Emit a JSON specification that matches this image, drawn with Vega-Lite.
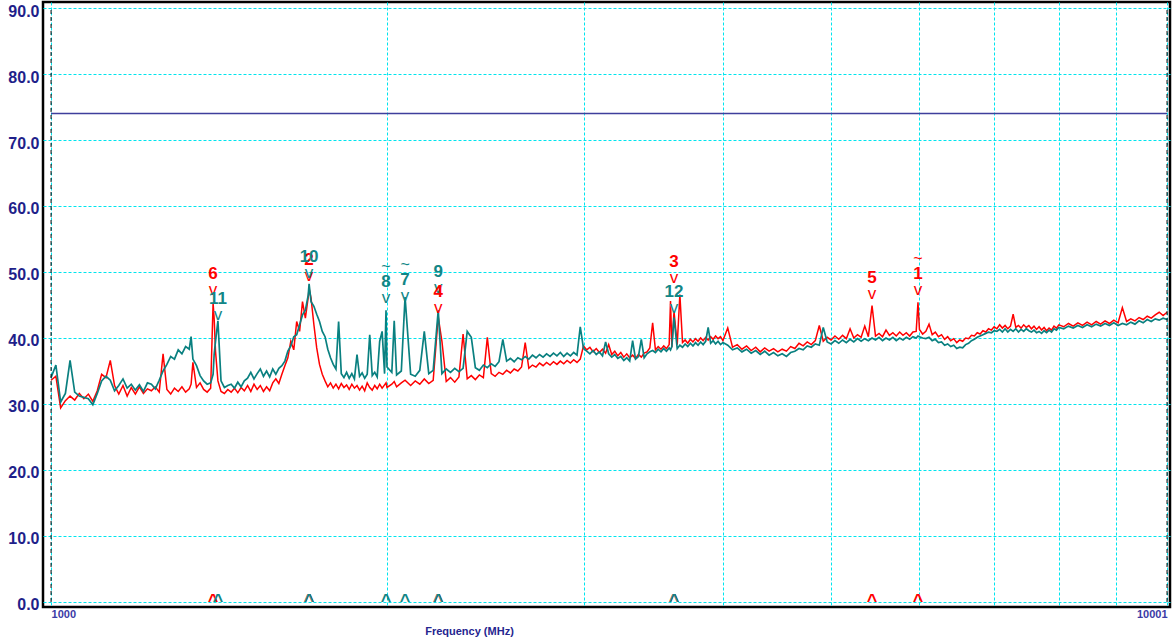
{
  "$schema": "https://vega.github.io/schema/vega-lite/v6.json",
  "width": 1127,
  "height": 605,
  "autosize": {"type": "none"},
  "padding": {"left": 43, "top": 2, "right": 2, "bottom": 34},
  "background": "white",
  "config": {
    "view": {"stroke": "#000000", "strokeWidth": 2.5},
    "font": "Liberation Sans",
    "axisY": {
      "grid": true,
      "gridColor": "#00e5ee",
      "gridDash": [3, 2],
      "gridWidth": 1,
      "domain": false,
      "ticks": false,
      "labelFont": "Liberation Sans",
      "labelFontSize": 16,
      "labelFontWeight": "bold",
      "labelColor": "#1f1f8a",
      "labelPadding": 4,
      "labelOffset": 3
    }
  },
  "datasets": {
    "scan": [
      {"f":1000,"r":33.6,"t":34.0},{"f":1010,"r":34.2,"t":35.9},{"f":1020,"r":29.4,"t":30.3},{"f":1030,"r":30.5,"t":31.6},{"f":1040,"r":31.2,"t":36.6},
      {"f":1050,"r":30.6,"t":31.8},{"f":1060,"r":31.6,"t":31.2},{"f":1070,"r":30.8,"t":31.0},{"f":1080,"r":31.5,"t":30.8},{"f":1090,"r":30.4,"t":29.9},
      {"f":1100,"r":32.0,"t":31.6},{"f":1110,"r":34.5,"t":33.5},{"f":1120,"r":34.0,"t":34.2},{"f":1130,"r":36.6,"t":33.6},{"f":1140,"r":32.8,"t":32.0},
      {"f":1150,"r":31.5,"t":32.8},{"f":1160,"r":32.8,"t":33.8},{"f":1170,"r":31.2,"t":32.4},{"f":1180,"r":32.5,"t":33.0},{"f":1190,"r":31.5,"t":32.1},
      {"f":1200,"r":32.6,"t":32.9},{"f":1210,"r":31.6,"t":31.9},{"f":1220,"r":32.3,"t":33.2},{"f":1230,"r":32.0,"t":33.0},{"f":1240,"r":32.6,"t":32.3},
      {"f":1250,"r":31.8,"t":33.6},{"f":1260,"r":37.6,"t":35.0},{"f":1270,"r":32.2,"t":36.0},{"f":1280,"r":31.5,"t":37.2},{"f":1290,"r":32.4,"t":36.8},
      {"f":1300,"r":31.9,"t":38.2},{"f":1310,"r":32.6,"t":37.6},{"f":1320,"r":31.8,"t":38.7},{"f":1330,"r":32.3,"t":38.3},{"f":1335,"r":33.0,"t":40.2},
      {"f":1340,"r":36.3,"t":36.8},{"f":1350,"r":32.5,"t":35.8},{"f":1360,"r":33.2,"t":34.3},{"f":1370,"r":32.2,"t":33.5},{"f":1380,"r":31.8,"t":33.0},
      {"f":1390,"r":32.4,"t":33.2},{"f":1397,"r":45.3,"t":34.5},{"f":1400,"r":43.0,"t":37.5},{"f":1404,"r":38.0,"t":39.5},{"f":1411,"r":33.5,"t":42.6},
      {"f":1420,"r":31.9,"t":33.5},{"f":1430,"r":31.6,"t":32.5},{"f":1440,"r":32.2,"t":32.8},{"f":1450,"r":31.8,"t":33.0},{"f":1460,"r":32.4,"t":32.4},
      {"f":1470,"r":31.7,"t":33.3},{"f":1480,"r":32.5,"t":32.6},{"f":1490,"r":32.0,"t":33.5},{"f":1500,"r":32.8,"t":33.9},{"f":1510,"r":31.9,"t":34.8},
      {"f":1520,"r":33.0,"t":33.8},{"f":1530,"r":32.2,"t":34.6},{"f":1540,"r":32.8,"t":35.3},{"f":1550,"r":31.9,"t":34.2},{"f":1560,"r":32.6,"t":35.0},
      {"f":1570,"r":32.0,"t":34.1},{"f":1580,"r":33.2,"t":35.3},{"f":1590,"r":33.8,"t":34.5},{"f":1600,"r":33.1,"t":35.4},{"f":1610,"r":34.5,"t":35.8},
      {"f":1620,"r":35.8,"t":36.5},{"f":1630,"r":37.0,"t":38.0},{"f":1640,"r":39.5,"t":38.8},{"f":1650,"r":38.2,"t":40.2},{"f":1660,"r":42.5,"t":40.5},
      {"f":1670,"r":41.0,"t":42.0},{"f":1680,"r":45.5,"t":43.5},{"f":1690,"r":43.0,"t":44.2},{"f":1700,"r":46.2,"t":46.5},{"f":1703,"r":47.5,"t":48.2},
      {"f":1710,"r":46.0,"t":45.5},{"f":1720,"r":42.0,"t":44.8},{"f":1730,"r":38.5,"t":43.6},{"f":1740,"r":36.0,"t":42.5},{"f":1750,"r":34.5,"t":41.0},
      {"f":1760,"r":33.5,"t":40.2},{"f":1770,"r":32.6,"t":38.3},{"f":1780,"r":33.2,"t":37.0},{"f":1790,"r":32.4,"t":36.0},{"f":1800,"r":33.0,"t":35.3},
      {"f":1810,"r":32.3,"t":42.5},{"f":1820,"r":33.1,"t":34.6},{"f":1830,"r":32.5,"t":34.0},{"f":1840,"r":32.9,"t":34.8},{"f":1850,"r":32.2,"t":33.9},
      {"f":1860,"r":33.0,"t":34.6},{"f":1870,"r":32.4,"t":33.8},{"f":1880,"r":32.8,"t":37.5},{"f":1890,"r":32.1,"t":34.2},{"f":1900,"r":32.7,"t":34.7},
      {"f":1910,"r":32.0,"t":33.9},{"f":1920,"r":33.2,"t":34.5},{"f":1930,"r":32.5,"t":40.5},{"f":1940,"r":32.1,"t":34.3},{"f":1950,"r":32.8,"t":34.8},
      {"f":1960,"r":32.3,"t":34.1},{"f":1970,"r":33.0,"t":39.5},{"f":1980,"r":32.4,"t":41.0},{"f":1990,"r":32.9,"t":34.6},{"f":1996,"r":33.2,"t":44.2},
      {"f":2000,"r":32.5,"t":35.6},{"f":2020,"r":33.0,"t":34.8},{"f":2030,"r":33.4,"t":42.6},{"f":2040,"r":32.6,"t":34.4},{"f":2060,"r":33.2,"t":35.0},
      {"f":2076,"r":33.6,"t":46.2},{"f":2100,"r":32.8,"t":34.5},{"f":2120,"r":33.5,"t":34.2},{"f":2140,"r":33.0,"t":35.1},{"f":2160,"r":33.8,"t":41.0},
      {"f":2180,"r":33.1,"t":34.6},{"f":2200,"r":33.6,"t":35.1},{"f":2223,"r":43.2,"t":44.2},{"f":2240,"r":39.5,"t":34.6},{"f":2260,"r":33.4,"t":35.3},
      {"f":2280,"r":34.0,"t":34.8},{"f":2300,"r":33.3,"t":35.4},{"f":2320,"r":34.1,"t":34.9},{"f":2340,"r":40.6,"t":35.4},{"f":2360,"r":33.8,"t":41.0},
      {"f":2380,"r":34.3,"t":40.1},{"f":2400,"r":33.7,"t":35.5},{"f":2420,"r":34.4,"t":35.1},{"f":2440,"r":34.0,"t":35.9},{"f":2460,"r":40.1,"t":35.5},
      {"f":2480,"r":34.6,"t":36.1},{"f":2500,"r":34.2,"t":35.7},{"f":2520,"r":34.8,"t":36.4},{"f":2540,"r":34.5,"t":39.8},{"f":2560,"r":35.1,"t":36.5},
      {"f":2580,"r":34.7,"t":36.9},{"f":2600,"r":35.3,"t":36.4},{"f":2620,"r":35.0,"t":37.0},{"f":2640,"r":35.6,"t":36.7},{"f":2660,"r":39.3,"t":37.2},
      {"f":2680,"r":35.4,"t":36.8},{"f":2700,"r":35.9,"t":37.4},{"f":2720,"r":35.6,"t":37.0},{"f":2740,"r":36.2,"t":37.5},{"f":2760,"r":35.8,"t":37.1},
      {"f":2780,"r":36.3,"t":37.6},{"f":2800,"r":35.9,"t":37.2},{"f":2820,"r":36.4,"t":37.7},{"f":2840,"r":36.0,"t":37.3},{"f":2860,"r":36.5,"t":37.8},
      {"f":2880,"r":36.1,"t":37.2},{"f":2900,"r":36.6,"t":37.7},{"f":2920,"r":36.2,"t":37.3},{"f":2940,"r":36.7,"t":37.8},{"f":2960,"r":36.3,"t":37.4},
      {"f":2980,"r":36.8,"t":41.7},{"f":3000,"r":38.8,"t":38.4},{"f":3020,"r":38.2,"t":38.0},{"f":3040,"r":38.6,"t":37.6},{"f":3060,"r":37.9,"t":38.1},
      {"f":3080,"r":38.4,"t":37.5},{"f":3100,"r":37.8,"t":37.9},{"f":3120,"r":38.3,"t":37.3},{"f":3140,"r":37.7,"t":39.4},{"f":3160,"r":39.0,"t":37.6},
      {"f":3180,"r":37.5,"t":37.1},{"f":3200,"r":38.0,"t":37.5},{"f":3220,"r":37.3,"t":36.9},{"f":3240,"r":37.8,"t":37.2},{"f":3260,"r":37.1,"t":36.6},
      {"f":3280,"r":37.6,"t":37.0},{"f":3300,"r":37.0,"t":36.5},{"f":3320,"r":37.4,"t":39.6},{"f":3340,"r":36.9,"t":36.8},{"f":3360,"r":37.5,"t":37.2},
      {"f":3380,"r":37.1,"t":39.8},{"f":3400,"r":37.7,"t":37.0},{"f":3420,"r":37.9,"t":37.6},{"f":3440,"r":38.5,"t":37.9},{"f":3460,"r":42.3,"t":38.1},
      {"f":3480,"r":38.2,"t":37.8},{"f":3500,"r":38.7,"t":38.3},{"f":3520,"r":38.3,"t":37.9},{"f":3540,"r":38.8,"t":38.4},{"f":3560,"r":38.4,"t":38.0},
      {"f":3580,"r":39.0,"t":38.5},{"f":3590,"r":45.6,"t":38.2},{"f":3600,"r":38.6,"t":38.7},{"f":3616,"r":44.0,"t":43.1},{"f":3640,"r":39.0,"t":38.4},
      {"f":3660,"r":46.6,"t":38.9},{"f":3680,"r":39.3,"t":38.6},{"f":3700,"r":39.7,"t":39.1},{"f":3720,"r":39.2,"t":38.7},{"f":3740,"r":39.8,"t":39.2},
      {"f":3760,"r":39.4,"t":38.8},{"f":3780,"r":39.9,"t":39.3},{"f":3800,"r":39.5,"t":38.9},{"f":3820,"r":40.0,"t":39.4},{"f":3840,"r":39.6,"t":39.0},
      {"f":3860,"r":40.1,"t":39.5},{"f":3880,"r":39.7,"t":41.6},{"f":3900,"r":40.2,"t":39.2},{"f":3920,"r":39.8,"t":39.6},{"f":3940,"r":40.3,"t":39.1},
      {"f":3960,"r":39.9,"t":39.5},{"f":3980,"r":40.2,"t":39.0},{"f":4000,"r":39.6,"t":39.3},{"f":4040,"r":41.5,"t":38.9},{"f":4080,"r":38.6,"t":38.2},
      {"f":4120,"r":39.0,"t":38.5},{"f":4160,"r":38.3,"t":37.9},{"f":4200,"r":38.8,"t":38.3},{"f":4240,"r":38.1,"t":37.7},{"f":4280,"r":38.6,"t":38.1},
      {"f":4320,"r":37.9,"t":37.5},{"f":4360,"r":38.5,"t":38.0},{"f":4400,"r":38.0,"t":37.4},{"f":4440,"r":38.4,"t":37.8},{"f":4480,"r":37.9,"t":37.3},
      {"f":4520,"r":38.3,"t":37.6},{"f":4560,"r":38.0,"t":37.2},{"f":4600,"r":38.7,"t":37.8},{"f":4640,"r":38.4,"t":38.0},{"f":4680,"r":39.2,"t":38.4},
      {"f":4720,"r":38.8,"t":38.2},{"f":4760,"r":39.4,"t":38.8},{"f":4800,"r":39.0,"t":38.6},{"f":4840,"r":39.6,"t":39.1},{"f":4880,"r":41.9,"t":38.9},
      {"f":4920,"r":39.5,"t":41.6},{"f":4960,"r":40.1,"t":39.4},{"f":5000,"r":39.7,"t":39.1},{"f":5040,"r":40.3,"t":39.6},{"f":5080,"r":39.8,"t":39.2},
      {"f":5120,"r":40.4,"t":39.7},{"f":5160,"r":39.9,"t":39.3},{"f":5200,"r":41.4,"t":39.8},{"f":5240,"r":40.0,"t":39.4},{"f":5280,"r":40.5,"t":39.9},
      {"f":5320,"r":40.1,"t":39.5},{"f":5360,"r":41.8,"t":39.9},{"f":5400,"r":40.2,"t":39.6},{"f":5441,"r":44.9,"t":40.0},{"f":5480,"r":40.3,"t":39.7},
      {"f":5520,"r":40.7,"t":40.1},{"f":5560,"r":40.2,"t":39.6},{"f":5600,"r":41.2,"t":40.0},{"f":5640,"r":40.4,"t":39.7},{"f":5680,"r":40.8,"t":40.1},
      {"f":5720,"r":40.3,"t":39.6},{"f":5760,"r":40.9,"t":40.0},{"f":5800,"r":40.4,"t":39.7},{"f":5840,"r":40.8,"t":40.1},{"f":5880,"r":40.3,"t":39.8},
      {"f":5920,"r":40.9,"t":40.2},{"f":5960,"r":41.0,"t":40.0},{"f":5982,"r":45.4,"t":40.3},{"f":6000,"r":41.3,"t":40.2},{"f":6040,"r":40.6,"t":40.0},
      {"f":6080,"r":41.0,"t":39.9},{"f":6120,"r":42.1,"t":40.1},{"f":6160,"r":40.5,"t":39.6},{"f":6200,"r":40.9,"t":39.8},{"f":6240,"r":40.2,"t":39.3},
      {"f":6280,"r":40.5,"t":39.4},{"f":6320,"r":39.8,"t":38.9},{"f":6360,"r":40.2,"t":39.1},{"f":6400,"r":39.6,"t":38.7},{"f":6440,"r":39.9,"t":38.9},
      {"f":6480,"r":39.3,"t":38.4},{"f":6520,"r":39.7,"t":38.6},{"f":6560,"r":39.5,"t":38.5},{"f":6600,"r":40.0,"t":39.0},{"f":6640,"r":39.9,"t":39.2},
      {"f":6680,"r":40.4,"t":39.6},{"f":6720,"r":40.3,"t":39.8},{"f":6760,"r":40.8,"t":40.1},{"f":6800,"r":40.6,"t":40.3},{"f":6840,"r":41.1,"t":40.5},
      {"f":6880,"r":40.9,"t":40.7},{"f":6920,"r":41.4,"t":40.9},{"f":6960,"r":41.2,"t":40.8},{"f":7000,"r":41.7,"t":41.1},{"f":7040,"r":41.4,"t":41.0},
      {"f":7080,"r":42.0,"t":41.3},{"f":7120,"r":41.5,"t":40.9},{"f":7160,"r":41.9,"t":41.4},{"f":7200,"r":41.4,"t":40.9},{"f":7240,"r":41.8,"t":41.3},
      {"f":7280,"r":43.6,"t":41.0},{"f":7320,"r":41.6,"t":41.4},{"f":7360,"r":41.9,"t":40.9},{"f":7400,"r":41.5,"t":41.3},{"f":7440,"r":42.0,"t":41.0},
      {"f":7480,"r":41.6,"t":41.4},{"f":7520,"r":41.9,"t":41.1},{"f":7560,"r":41.4,"t":40.9},{"f":7600,"r":41.8,"t":41.2},{"f":7640,"r":41.3,"t":40.8},
      {"f":7680,"r":41.7,"t":41.0},{"f":7720,"r":41.2,"t":40.7},{"f":7760,"r":41.6,"t":41.1},{"f":7800,"r":41.1,"t":40.8},{"f":7840,"r":41.5,"t":41.2},
      {"f":7880,"r":41.2,"t":40.9},{"f":7920,"r":41.8,"t":41.4},{"f":7960,"r":41.5,"t":41.2},{"f":8000,"r":42.0,"t":41.6},{"f":8080,"r":41.7,"t":41.4},
      {"f":8160,"r":42.2,"t":41.8},{"f":8240,"r":41.8,"t":41.5},{"f":8320,"r":42.3,"t":41.9},{"f":8400,"r":41.9,"t":41.6},{"f":8480,"r":42.4,"t":42.0},
      {"f":8560,"r":42.0,"t":41.7},{"f":8640,"r":42.5,"t":42.1},{"f":8720,"r":42.1,"t":41.8},{"f":8800,"r":42.6,"t":42.2},{"f":8880,"r":42.2,"t":41.9},
      {"f":8960,"r":42.7,"t":42.3},{"f":9040,"r":42.3,"t":41.9},{"f":9120,"r":44.6,"t":42.2},{"f":9200,"r":42.5,"t":42.0},{"f":9280,"r":42.9,"t":42.4},
      {"f":9360,"r":42.6,"t":42.1},{"f":9440,"r":43.1,"t":42.6},{"f":9520,"r":42.8,"t":42.3},{"f":9600,"r":43.3,"t":42.8},{"f":9680,"r":43.0,"t":42.5},
      {"f":9760,"r":43.5,"t":42.9},{"f":9840,"r":43.9,"t":42.7},{"f":9920,"r":43.4,"t":43.0},{"f":10000,"r":43.9,"t":42.8}
    ],
    "markers": [
      {"f":5982,"level":45.4,"label":"1","tr":"r","qp":true},
      {"f":1703,"level":47.6,"label":"2","tr":"r","qp":false},
      {"f":3616,"level":47.3,"label":"3","tr":"r","qp":false},
      {"f":2223,"level":42.8,"label":"4","tr":"r","qp":false},
      {"f":5441,"level":44.8,"label":"5","tr":"r","qp":false},
      {"f":1397,"level":45.4,"label":"6","tr":"r","qp":false},
      {"f":2076,"level":44.5,"label":"7","tr":"t","qp":true},
      {"f":1996,"level":44.3,"label":"8","tr":"t","qp":true},
      {"f":2223,"level":45.7,"label":"9","tr":"t","qp":false},
      {"f":1703,"level":48.1,"label":"10","tr":"t","qp":false},
      {"f":1411,"level":41.7,"label":"11","tr":"t","qp":false},
      {"f":3616,"level":42.8,"label":"12","tr":"t","qp":false}
    ]
  },
  "encoding": {
    "x": {
      "field": "f",
      "type": "quantitative",
      "scale": {"type": "log", "domain": [983.5, 10062], "nice": false},
      "axis": {
        "values": [1000, 2000, 3000, 4000, 5000, 6000, 7000, 8000, 9000, 10001],
        "labelExpr": "datum.value == 1000 || datum.value == 10001 ? format(datum.value, 'd') : ''",
        "labelFlush": 15,
        "labelOverlap": false,
        "grid": true,
        "gridColor": "#00e5ee",
        "gridDash": [3, 2],
        "gridWidth": 1,
        "domain": false,
        "ticks": false,
        "labelFont": "Liberation Sans",
        "labelFontSize": 11,
        "labelFontWeight": "bold",
        "labelColor": "#3b3ba6",
        "labelPadding": 1,
        "title": "Frequency (MHz)",
        "titleFont": "Liberation Sans",
        "titleFontSize": 11,
        "titleFontWeight": "bold",
        "titleColor": "#25258f",
        "titleX": 426,
        "titleY": 24,
        "titleAlign": "center",
        "titleBaseline": "middle"
      }
    }
  },
  "layer": [
    {
      "data": {"name": "scan"},
      "mark": {"type": "line", "color": "#ff0000", "strokeWidth": 1.5},
      "encoding": {
        "y": {"field": "r", "type": "quantitative", "scale": {"domain": [-0.76, 90.91], "nice": false, "zero": false}, "axis": {"values": [0, 10, 20, 30, 40, 50, 60, 70, 80, 90], "format": ".1f", "title": null}}
      }
    },
    {
      "data": {"name": "scan"},
      "mark": {"type": "line", "color": "#0a8080", "strokeWidth": 1.7},
      "encoding": {
        "y": {"field": "t", "type": "quantitative", "scale": {"domain": [-0.76, 90.91], "nice": false, "zero": false}, "axis": {"values": [0, 10, 20, 30, 40, 50, 60, 70, 80, 90], "format": ".1f", "title": null}}
      }
    },
    {
      "data": {"values": [{"f": 1000, "f2": 10001, "limit": 74}]},
      "mark": {"type": "rule", "color": "#3f3f9c", "strokeWidth": 1.5},
      "encoding": {
        "x2": {"field": "f2"},
        "y": {"field": "limit", "type": "quantitative", "scale": {"domain": [-0.76, 90.91], "nice": false, "zero": false}, "axis": {"values": [0, 10, 20, 30, 40, 50, 60, 70, 80, 90], "format": ".1f", "title": null}}
      }
    },
    {
      "data": {"values": [{"f": 1000, "lo": 0, "hi": 90}, {"f": 10001, "lo": 0, "hi": 90}]},
      "mark": {"type": "rule", "color": "#000000", "strokeWidth": 1, "strokeDash": [4, 3]},
      "encoding": {
        "y": {"field": "lo", "type": "quantitative", "scale": {"domain": [-0.76, 90.91], "nice": false, "zero": false}, "axis": {"values": [0, 10, 20, 30, 40, 50, 60, 70, 80, 90], "format": ".1f", "title": null}},
        "y2": {"field": "hi"}
      }
    },
    {
      "data": {"name": "markers"},
      "mark": {"type": "text", "text": "v", "font": "Liberation Sans", "fontSize": 17, "baseline": "middle", "dy": -12},
      "encoding": {
        "y": {"field": "level", "type": "quantitative", "scale": {"domain": [-0.76, 90.91], "nice": false, "zero": false}, "axis": {"values": [0, 10, 20, 30, 40, 50, 60, 70, 80, 90], "format": ".1f", "title": null}},
        "color": {"field": "tr", "type": "nominal", "scale": {"domain": ["r", "t"], "range": ["#ff0000", "#128686"]}, "legend": null}
      }
    },
    {
      "data": {"name": "markers"},
      "mark": {"type": "text", "font": "Liberation Sans", "fontSize": 17, "fontWeight": "bold", "baseline": "middle", "dy": -28},
      "encoding": {
        "y": {"field": "level", "type": "quantitative", "scale": {"domain": [-0.76, 90.91], "nice": false, "zero": false}, "axis": {"values": [0, 10, 20, 30, 40, 50, 60, 70, 80, 90], "format": ".1f", "title": null}},
        "text": {"field": "label"},
        "color": {"field": "tr", "type": "nominal", "scale": {"domain": ["r", "t"], "range": ["#ff0000", "#128686"]}, "legend": null}
      }
    },
    {
      "data": {"name": "markers"},
      "transform": [{"filter": "datum.qp"}],
      "mark": {"type": "text", "text": "~", "font": "Liberation Sans", "fontSize": 16, "baseline": "middle", "dy": -43},
      "encoding": {
        "y": {"field": "level", "type": "quantitative", "scale": {"domain": [-0.76, 90.91], "nice": false, "zero": false}, "axis": {"values": [0, 10, 20, 30, 40, 50, 60, 70, 80, 90], "format": ".1f", "title": null}},
        "color": {"field": "tr", "type": "nominal", "scale": {"domain": ["r", "t"], "range": ["#ff0000", "#128686"]}, "legend": null}
      }
    },
    {
      "data": {"name": "markers"},
      "mark": {"type": "text", "text": "^", "font": "Liberation Sans", "fontSize": 18, "fontWeight": "bold", "baseline": "alphabetic", "dy": 5},
      "encoding": {
        "y": {"datum": 0, "type": "quantitative", "scale": {"domain": [-0.76, 90.91], "nice": false, "zero": false}, "axis": {"values": [0, 10, 20, 30, 40, 50, 60, 70, 80, 90], "format": ".1f", "title": null}},
        "color": {"field": "tr", "type": "nominal", "scale": {"domain": ["r", "t"], "range": ["#ff0000", "#128686"]}, "legend": null}
      }
    }
  ]
}
